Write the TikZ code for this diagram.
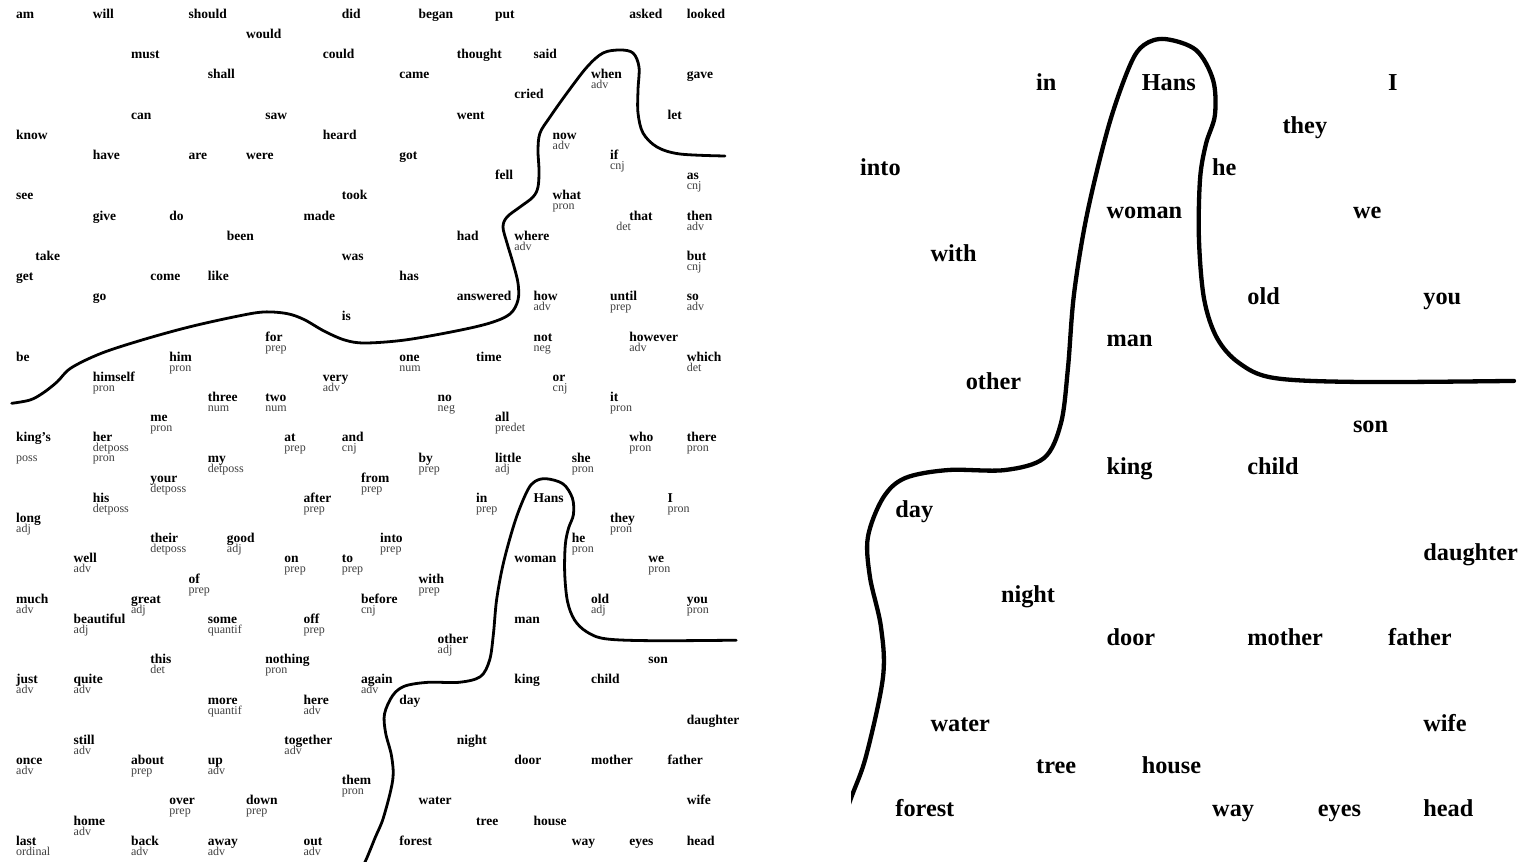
\documentclass[tikz,border=0pt]{standalone}
\usepackage{fontspec}
\setmainfont{Liberation Serif}

\tikzset{
  word/.style={anchor=base west, inner sep=0pt, font=\bfseries\fontsize{13.5}{16}\selectfont},
  tag/.style={anchor=base west, inner sep=0pt, text=black!75, font=\fontsize{12}{14}\selectfont},
  bigword/.style={anchor=base west, inner sep=0pt, font=\bfseries\fontsize{24.3}{29}\selectfont},
  boundary/.style={line width=2.8pt, line cap=round, line join=round},
  upperline/.style={insert path={plot[smooth, tension=0.55] coordinates {
    (11.7,403.3) (30,400) (43,393) (57,382) (71,368) (101,353.4) (142,340) (189,327)
    (236,316.5) (263.5,312) (287,313.6) (304,319.5) (324,331) (344.6,340) (365,343)
    (405,340) (456,331) (490,323) (510,314) (518,300) (518,283) (513,263) (507,243)
    (503,227) (507,217) (520,207) (533,197) (538,187) (539,170) (538,150) (540,133)
    (550,117) (567,93) (587,67) (603,53) (620,50) (633,53) (639,67) (638,90) (638,113)
    (643,133) (657,147) (680,154) (725,156)}}},
  lowerline/.style={insert path={plot[smooth, tension=0.55] coordinates {
    (357,875) (365,862) (375.2,837.5) (383.5,817.4) (392.7,780.2) (391.6,756.4)
    (385.6,732.8) (384.5,713.9) (392.7,695.5) (404.7,686.1) (428.1,682.3) (459.1,682.3)
    (480.4,676.6) (489.6,660.1) (493.4,634.1) (496.7,599.1) (503.8,561.4) (515.7,519.3)
    (527.2,491) (534.8,481.5) (546.2,478.7) (563.1,483.9) (572.4,498.1) (573.4,514.6)
    (568.5,528.3) (565.3,544.8) (564.7,573.2) (567.5,601.5) (574.5,619.9) (586.5,631.7)
    (605.6,638.8) (652.4,640.7) (736.2,640.2)}}},
}

\begin{document}
\begin{tikzpicture}[x=1pt, y=-1pt]
  \fill[white] (0,0) rectangle (1527,862);
  \useasboundingbox (0,0) rectangle (1527,862);

  % left panel: words on the grid (column, row)
  \begin{scope}[shift={(16,18.3)}, x=19.16pt, y=-20.17pt]
    % words without a tag
    \foreach \c/\r/\w in {0/0/am, 4/0/will, 9/0/should, 17/0/did, 21/0/began, 25/0/put,
        32/0/asked, 35/0/looked, 12/1/would, 6/2/must, 16/2/could, 23/2/thought, 27/2/said,
        10/3/shall, 20/3/came, 35/3/gave, 26/4/cried, 6/5/can, 13/5/saw, 23/5/went, 34/5/let,
        0/6/know, 16/6/heard, 4/7/have, 9/7/are, 12/7/were, 20/7/got, 25/8/fell, 0/9/see,
        17/9/took, 4/10/give, 8/10/do, 15/10/made, 11/11/been, 23/11/had, 1/12/take, 17/12/was,
        0/13/get, 7/13/come, 10/13/like, 20/13/has, 4/14/go, 23/14/answered, 17/15/is,
        0/17/be, 24/17/time, 27/24/Hans, 26/27/woman, 26/30/man, 33/32/son, 26/33/king,
        30/33/child, 20/34/day, 35/35/daughter, 23/36/night, 26/37/door, 30/37/mother,
        34/37/father, 21/39/water, 35/39/wife, 24/40/tree, 27/40/house, 20/41/forest,
        29/41/way, 32/41/eyes, 35/41/head} {
      \node[word] (\w) at (\c,\r) {\w};
    }
    % words with their tag below
    \foreach \c/\r/\w/\t in {30/3/when/adv, 28/6/now/adv, 31/7/if/cnj, 35/8/as/cnj,
        28/9/what/pron, 35/10/then/adv, 26/11/where/adv, 35/12/but/cnj, 27/14/how/adv,
        31/14/until/prep, 35/14/so/adv, 13/16/for/prep, 27/16/not/neg, 32/16/however/adv,
        8/17/him/pron, 20/17/one/num, 35/17/which/det, 4/18/himself/pron, 16/18/very/adv,
        28/18/or/cnj, 10/19/three/num, 13/19/two/num, 22/19/no/neg, 31/19/it/pron,
        7/20/me/pron, 25/20/all/predet, 14/21/at/prep, 17/21/and/cnj, 32/21/who/pron,
        35/21/there/pron, 10/22/my/detposs, 21/22/by/prep, 25/22/little/adj, 29/22/she/pron,
        7/23/your/detposs, 18/23/from/prep, 4/24/his/detposs, 15/24/after/prep, 24/24/in/prep,
        34/24/I/pron, 0/25/long/adj, 31/25/they/pron, 7/26/their/detposs, 11/26/good/adj,
        19/26/into/prep, 29/26/he/pron, 3/27/well/adv, 14/27/on/prep, 17/27/to/prep,
        33/27/we/pron, 9/28/of/prep, 21/28/with/prep, 0/29/much/adv, 6/29/great/adj,
        18/29/before/cnj, 30/29/old/adj, 35/29/you/pron, 3/30/beautiful/adj,
        10/30/some/quantif, 15/30/off/prep, 22/31/other/adj, 7/32/this/det,
        13/32/nothing/pron, 0/33/just/adv, 3/33/quite/adv, 18/33/again/adv,
        10/34/more/quantif, 15/34/here/adv, 3/36/still/adv, 14/36/together/adv,
        0/37/once/adv, 6/37/about/prep, 10/37/up/adv, 17/38/them/pron, 8/39/over/prep,
        12/39/down/prep, 3/40/home/adv, 0/41/last/ordinal, 6/41/back/adv, 10/41/away/adv,
        15/41/out/adv} {
      \node[word] (\w) at (\c,\r) {\w};
      \node[tag] (\w-tag) at ([yshift=-10pt]\w.base west) {\t};
    }
    % odd ones
    \node[word] (that) at (32,10) {that};
    \node[tag] (that-tag) at ([xshift=-13pt, yshift=-10pt]that.base west) {det};
    \node[word] (kings) at (0,21) {king's};
    \node[tag] (kings-tag) at ([yshift=-20pt]kings.base west) {poss};
    \node[word] (her) at (4,21) {her};
    \node[tag] (her-tag) at ([yshift=-9.6pt]her.base west) {detposs};
    \node[tag] (her-tag2) at ([yshift=-20pt]her.base west) {pron};
  \end{scope}

  % left panel: the two boundaries
  \draw[boundary, upperline];
  \draw[boundary, lowerline];

  % right panel: close-up of the lower right corner
  \begin{scope}[shift={(191.2,-934.3)}, x=35.2pt, y=-42.7pt]
    \foreach \c/\r/\w in {24/24/in, 27/24/Hans, 34/24/I, 31/25/they, 19/26/into, 29/26/he,
        26/27/woman, 33/27/we, 21/28/with, 30/29/old, 35/29/you, 26/30/man, 22/31/other,
        33/32/son, 26/33/king, 30/33/child, 20/34/day, 35/35/daughter, 23/36/night,
        26/37/door, 30/37/mother, 34/37/father, 21/39/water, 35/39/wife, 24/40/tree,
        27/40/house, 20/41/forest, 29/41/way, 32/41/eyes, 35/41/head} {
      \node[bigword] (z-\w) at (\c,\r) {\w};
    }
  \end{scope}
  \begin{scope}[shift={(1036,82)}, xscale=1.837, yscale=2.117, shift={(-476,-499)}]
    \clip (375.3,455) rectangle (745,875);
    \draw[boundary, line width=4.3pt, lowerline];
  \end{scope}
\end{tikzpicture}
\end{document}
